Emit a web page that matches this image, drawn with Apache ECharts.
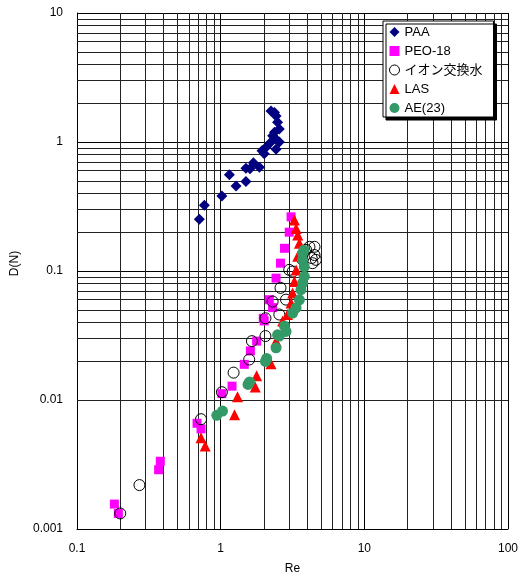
<!DOCTYPE html>
<html>
<head>
<meta charset="utf-8">
<script src="https://cdn.jsdelivr.net/npm/echarts@6/dist/echarts.min.js"></script>
<style>
html,body{margin:0;padding:0;background:#fff;}
#chart{width:523px;height:580px;}
</style>
</head>
<body>
<div id="chart"></div>
<script>
// ---- data ----
const seriesNames = ['PAA', 'PEO-18', 'イオン交換水', 'LAS', 'AE(23)'];

const paaRe = [0.71, 0.77, 1.02, 1.15, 1.28, 1.50, 1.50, 1.60, 1.69, 1.86, 1.94, 2.01, 2.07, 2.24, 2.30, 2.37, 2.43, 2.43, 2.56, 2.56, 2.49, 2.43, 2.37, 2.24];
const paaDN = [0.252, 0.323, 0.382, 0.557, 0.456, 0.494, 0.627, 0.62, 0.689, 0.638, 0.857, 0.81, 0.91, 1.0, 1.12, 1.19, 1.05, 0.88, 1.0, 1.26, 1.42, 1.59, 1.69, 1.74];

const peoRe = [0.182, 0.194, 0.37, 0.38, 0.685, 0.73, 1.02, 1.2, 1.46, 1.61, 1.78, 1.98, 2.01, 2.18, 2.30, 2.43, 2.61, 2.78, 3.0, 3.09];
const peoDN = [0.00156, 0.00132, 0.00288, 0.00335, 0.0066, 0.00597, 0.0112, 0.0128, 0.0189, 0.024, 0.0286, 0.043, 0.041, 0.0599, 0.052, 0.088, 0.115, 0.15, 0.2, 0.263];

const ionRe = [0.2, 0.272, 0.73, 1.02, 1.23, 1.58, 1.65, 2.05, 2.05, 2.30, 2.56, 2.61, 2.85, 3.0, 3.17, 3.72, 3.93, 4.15, 4.36, 4.5, 4.5, 4.6, 4.3];
const ionDN = [0.00132, 0.00219, 0.0071, 0.0115, 0.0163, 0.0206, 0.0286, 0.0313, 0.043, 0.058, 0.046, 0.074, 0.06, 0.102, 0.099, 0.122, 0.146, 0.154, 0.115, 0.154, 0.133, 0.122, 0.126];

const lasRe = [0.73, 0.78, 1.25, 1.31, 1.74, 1.78, 2.24, 2.43, 2.7, 2.92, 3.09, 3.17, 3.26, 3.35, 3.44, 3.53, 3.44, 3.35, 3.26];
const lasDN = [0.0051, 0.0044, 0.0077, 0.0106, 0.0126, 0.0154, 0.0191, 0.0286, 0.041, 0.046, 0.0565, 0.0676, 0.083, 0.102, 0.13, 0.164, 0.19, 0.214, 0.248];

const aeRe = [0.94, 1.03, 1.55, 1.59, 2.05, 2.09, 2.43, 2.49, 2.56, 2.78, 2.85, 3.17, 3.35, 3.53, 3.62, 3.72, 3.82, 3.82, 3.72, 3.72, 3.8];
const aeDN = [0.0076, 0.0082, 0.0132, 0.0138, 0.0199, 0.021, 0.0254, 0.032, 0.0313, 0.0375, 0.034, 0.0472, 0.0517, 0.0598, 0.0716, 0.0806, 0.0907, 0.108, 0.122, 0.137, 0.145];

const xTickLabels = ['0.1', '1', '10', '100'];
const yTickLabels = ['0.001', '0.01', '0.1', '1', '10'];
const xAxisTitle = 'Re';
const yAxisTitle = 'D(N)';

// ---- build ----
function pairs(xs, ys) { return xs.map((x, i) => [x, ys[i]]); }
function minorValues(labels) {
  const out = [];
  for (let d = 0; d < labels.length - 1; d++) {
    const base = Number(labels[d]);
    for (let k = 2; k <= 9; k++) out.push(+(base * k).toPrecision(3));
  }
  return out;
}
function labelFor(labels) {
  return function (v) {
    const hit = labels.find(l => Math.abs(Math.log10(Number(l)) - Math.log10(v)) < 1e-6);
    return hit === undefined ? '' : hit;
  };
}

const xMinor = minorValues(xTickLabels);
const yMinor = minorValues(yTickLabels);
const gridLineData = xMinor.map(v => ({ xAxis: v })).concat(yMinor.map(v => ({ yAxis: v })));

const numFont = '"Liberation Sans", Arial, "Noto Sans CJK JP", sans-serif';

const legendData = seriesNames.map((n, i) => i === 2
  ? { name: n, itemStyle: { color: '#fff', borderColor: '#000', borderWidth: 1 } }
  : { name: n });

const chart = echarts.init(document.getElementById('chart'), null, { renderer: 'canvas' });
chart.setOption({
  animation: false,
  backgroundColor: '#fff',
  grid: { left: 77, top: 13, width: 431, height: 519, containLabel: false },
  legend: {
    data: legendData,
    orient: 'vertical',
    left: 383,
    top: 21,
    z: 50,
    padding: [4, 11, 2, 6],
    itemGap: 5,
    itemWidth: 10,
    itemHeight: 10,
    backgroundColor: '#fff',
    borderColor: '#000',
    borderWidth: 1,
    shadowColor: '#000',
    shadowBlur: 0,
    shadowOffsetX: 3,
    shadowOffsetY: 3,
    textStyle: { fontFamily: numFont, fontSize: 13, color: '#000', lineHeight: 14 }
  },
  xAxis: {
    type: 'log', logBase: 10, min: 0.1, max: 100,
    name: xAxisTitle, nameLocation: 'middle', nameGap: 34,
    nameTextStyle: { fontFamily: numFont, fontSize: 12, color: '#000' },
    axisLine: { show: true, lineStyle: { color: '#000', width: 1 } },
    axisTick: { show: false },
    axisLabel: { fontFamily: numFont, fontSize: 12, color: '#000', margin: 14, formatter: labelFor(xTickLabels) },
    splitLine: { show: true, lineStyle: { color: '#000', width: 1 } },
    minorTick: { show: false }, minorSplitLine: { show: false }
  },
  yAxis: {
    type: 'log', logBase: 10, min: 0.001, max: 10,
    name: yAxisTitle, nameLocation: 'middle', nameGap: 56, nameRotate: 90,
    nameTextStyle: { fontFamily: numFont, fontSize: 12, color: '#000', padding: [0, 0, 0, 15] },
    axisLine: { show: true, lineStyle: { color: '#000', width: 1 } },
    axisTick: { show: false },
    axisLabel: { fontFamily: numFont, fontSize: 12, color: '#000', margin: 14, formatter: labelFor(yTickLabels) },
    splitLine: { show: true, lineStyle: { color: '#000', width: 1 } },
    minorTick: { show: false }, minorSplitLine: { show: false }
  },
  series: [
    {
      name: '__grid', type: 'scatter', data: [], silent: true, z: 1,
      markLine: {
        silent: true, symbol: ['none', 'none'], animation: false, z: 1,
        label: { show: false },
        lineStyle: { color: '#222', width: 1, type: 'solid' },
        emphasis: { disabled: true },
        data: gridLineData
      }
    },
    {
      name: seriesNames[0], type: 'scatter', z: 3, symbol: 'diamond', symbolSize: 11,
      itemStyle: { color: '#000080', opacity: 1 }, data: pairs(paaRe, paaDN)
    },
    {
      name: seriesNames[1], type: 'scatter', z: 4, symbol: 'rect', symbolSize: 9,
      itemStyle: { color: '#FF00FF', opacity: 1 }, data: pairs(peoRe, peoDN)
    },
    {
      name: seriesNames[2], type: 'scatter', z: 5, symbol: 'circle', symbolSize: 11,
      itemStyle: { color: 'rgba(255,255,255,0)', borderColor: '#000', borderWidth: 1, opacity: 1 }, data: pairs(ionRe, ionDN)
    },
    {
      name: seriesNames[3], type: 'scatter', z: 6, symbol: 'triangle', symbolSize: 11,
      itemStyle: { color: '#FF0000', opacity: 1 }, data: pairs(lasRe, lasDN)
    },
    {
      name: seriesNames[4], type: 'scatter', z: 7, symbol: 'circle', symbolSize: 11,
      itemStyle: { color: '#339966', opacity: 1 }, data: pairs(aeRe, aeDN)
    }
  ]
});
</script>
</body>
</html>
